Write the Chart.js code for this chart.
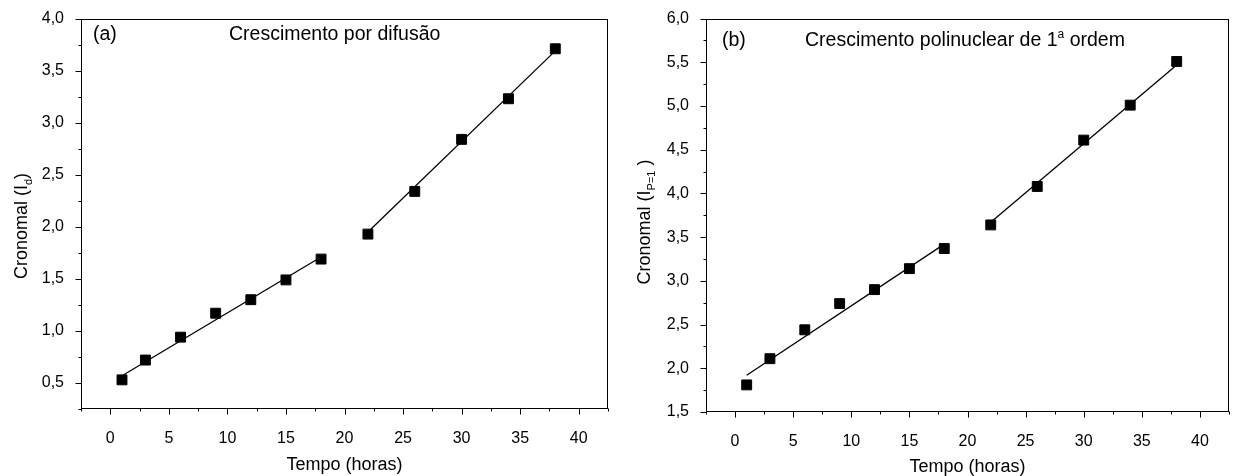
<!DOCTYPE html>
<html>
<head>
<meta charset="utf-8">
<script src="https://cdn.jsdelivr.net/npm/chart.js@4.4.0/dist/chart.umd.min.js"></script>
<style>
  body { margin: 0; background: #fff; }
  .painel { position: absolute; top: 0; height: 476px; }
  #painelA { left: 0; width: 620px; }
  #painelB { left: 620px; width: 621px; }
</style>
</head>
<body>
<div class="painel" id="painelA"><canvas id="graficoA"></canvas></div>
<div class="painel" id="painelB"><canvas id="graficoB"></canvas></div>
<script>
// dados
var tempo = [1, 3, 6, 9, 12, 15, 18, 22, 26, 30, 34, 38];
var cronomalD = [0.53, 0.72, 0.94, 1.17, 1.30, 1.49, 1.69, 1.93, 2.34, 2.84, 3.23, 3.71];
var cronomalP = [1.81, 2.11, 2.44, 2.74, 2.90, 3.14, 3.37, 3.64, 4.08, 4.61, 5.01, 5.51];

// retas ajustadas (dois trechos em cada grafico)
var ajusteX1 = [1, 18];
var ajusteX2 = [22, 38];
var ajusteD1 = [0.57, 1.71];
var ajusteD2 = [1.95, 3.69];
var ajusteP1 = [1.92, 3.42];
var ajusteP2 = [3.67, 5.47];

// marcas principais dos eixos
var xMarcas = [0, 5, 10, 15, 20, 25, 30, 35, 40];
var yMarcasA = [0.5, 1.0, 1.5, 2.0, 2.5, 3.0, 3.5, 4.0];
var yMarcasB = [1.5, 2.0, 2.5, 3.0, 3.5, 4.0, 4.5, 5.0, 5.5, 6.0];

Chart.defaults.font.family = '"Liberation Sans", Arial, sans-serif';
Chart.defaults.color = '#000';

function pares(xs, ys) {
  return xs.map(function (x, i) { return { x: x, y: ys[i] }; });
}

function ehMarca(v, lista) {
  return lista.some(function (m) { return Math.abs(m - v) < 1e-6; });
}

function virgula(v, casas) {
  return v.toFixed(casas).replace('.', ',');
}

// desenha texto com trechos normais, subscritos e sobrescritos
function textoMisto(ctx, partes, x, y, tam) {
  var pos = x;
  partes.forEach(function (p) {
    var t = p[1] ? Math.round(tam * 0.62) : tam;
    var dy = p[1] === 'sub' ? tam * 0.3 : (p[1] === 'sup' ? -tam * 0.42 : 0);
    ctx.font = t + 'px "Liberation Sans", Arial, sans-serif';
    ctx.fillText(p[0], pos, y + dy);
    pos += ctx.measureText(p[0]).width;
  });
}

function larguraMista(ctx, partes, tam) {
  var w = 0;
  partes.forEach(function (p) {
    var t = p[1] ? Math.round(tam * 0.62) : tam;
    ctx.font = t + 'px "Liberation Sans", Arial, sans-serif';
    w += ctx.measureText(p[0]).width;
  });
  return w;
}

var moldura = {
  id: 'moldura',
  afterDraw: function (chart, args, opts) {
    var ctx = chart.ctx, a = chart.chartArea;
    var sx = chart.scales.x, sy = chart.scales.y;
    ctx.save();
    ctx.strokeStyle = '#000';
    ctx.lineWidth = 1;
    var l = Math.round(a.left) + 0.5, r = Math.round(a.right) - 0.5;
    var t = Math.round(a.top) + 0.5, b = Math.round(a.bottom) - 0.5;
    ctx.strokeRect(l, t, r - l, b - t);
    ctx.beginPath();
    sx.ticks.forEach(function (tk) {
      var px = Math.round(sx.getPixelForValue(tk.value)) + 0.5;
      var len = ehMarca(tk.value, xMarcas) ? 6 : 3;
      ctx.moveTo(px, b);
      ctx.lineTo(px, b + len);
    });
    sy.ticks.forEach(function (tk) {
      var py = Math.round(sy.getPixelForValue(tk.value)) + 0.5;
      var len = ehMarca(tk.value, opts.yMarcas) ? 6 : 3;
      ctx.moveTo(l, py);
      ctx.lineTo(l - len, py);
    });
    ctx.stroke();

    ctx.fillStyle = '#000';
    ctx.textBaseline = 'alphabetic';
    // titulo do eixo x
    ctx.textAlign = 'center';
    ctx.font = '18px "Liberation Sans", Arial, sans-serif';
    ctx.fillText('Tempo (horas)', (a.left + a.right) / 2, opts.xTituloY);
    // titulo do eixo y
    ctx.textAlign = 'left';
    ctx.translate(opts.yTituloX, opts.yTituloY);
    ctx.rotate(-Math.PI / 2);
    var w = larguraMista(ctx, opts.yTitulo, 18);
    textoMisto(ctx, opts.yTitulo, -w / 2, 0, 18);
    ctx.setTransform(1, 0, 0, 1, 0, 0);
    // anotacoes
    opts.notas.forEach(function (n) {
      textoMisto(ctx, n.partes, n.x, n.y, 19.5);
    });
    ctx.restore();
  }
};

function criarGrafico(id, valores, aj1, aj2, yMin, yMax, yMarcas, caixa, textos) {
  var conjuntos = [
    {
      data: pares(tempo, valores),
      pointStyle: 'rect',
      pointRadius: 7,
      pointHoverRadius: 7,
      backgroundColor: '#000',
      borderColor: '#000',
      showLine: false
    },
    {
      data: pares(ajusteX1, aj1),
      showLine: true,
      pointRadius: 0,
      borderColor: '#000',
      borderWidth: 1.3
    },
    {
      data: pares(ajusteX2, aj2),
      showLine: true,
      pointRadius: 0,
      borderColor: '#000',
      borderWidth: 1.3
    }
  ];
  textos.yMarcas = yMarcas;
  return new Chart(document.getElementById(id), {
    type: 'scatter',
    data: { datasets: conjuntos },
    options: {
      responsive: true,
      maintainAspectRatio: false,
      animation: false,
      layout: { padding: { left: 0, right: caixa.direita, top: caixa.topo, bottom: 0 } },
      scales: {
        x: {
          type: 'linear',
          min: -2.5,
          max: 42.5,
          grid: { display: false },
          border: { display: false },
          afterFit: function (s) { s.height = caixa.alturaX; },
          ticks: {
            stepSize: 2.5,
            autoSkip: false,
            maxRotation: 0,
            padding: 12,
            font: { size: 16 },
            callback: function (v) { return ehMarca(v, xMarcas) ? String(v) : ''; }
          }
        },
        y: {
          type: 'linear',
          min: yMin,
          max: yMax,
          grid: { display: false },
          border: { display: false },
          afterFit: function (s) { s.width = caixa.larguraY; },
          ticks: {
            stepSize: 0.25,
            autoSkip: false,
            padding: 9,
            font: { size: 16 },
            callback: function (v) { return ehMarca(v, yMarcas) ? virgula(v, 1) : ''; }
          }
        }
      },
      plugins: {
        legend: { display: false },
        tooltip: { enabled: false },
        moldura: textos
      }
    },
    plugins: [moldura]
  });
}

criarGrafico('graficoA', cronomalD, ajusteD1, ajusteD2, 0.25, 4.0, yMarcasA,
  { direita: 6, topo: 14, alturaX: 67, larguraY: 81 },
  {
    xTituloY: 470,
    yTituloX: 27,
    yTituloY: 226,
    yTitulo: [['Cronomal (I', ''], ['d', 'sub'], [')', '']],
    notas: [
      { x: 93, y: 40, partes: [['(a)', '']] },
      { x: 229, y: 40, partes: [['Crescimento por difusão', '']] }
    ]
  });

criarGrafico('graficoB', cronomalP, ajusteP1, ajusteP2, 1.5, 6.0, yMarcasB,
  { direita: 2, topo: 17, alturaX: 64, larguraY: 86 },
  {
    xTituloY: 472,
    yTituloX: 30,
    yTituloY: 222,
    yTitulo: [['Cronomal (I', ''], ['P=1', 'sub'], [' )', '']],
    notas: [
      { x: 102, y: 46, partes: [['(b)', '']] },
      { x: 185, y: 46, partes: [['Crescimento polinuclear de 1', ''], ['a', 'sup'], [' ordem', '']] }
    ]
  });
</script>
</body>
</html>
